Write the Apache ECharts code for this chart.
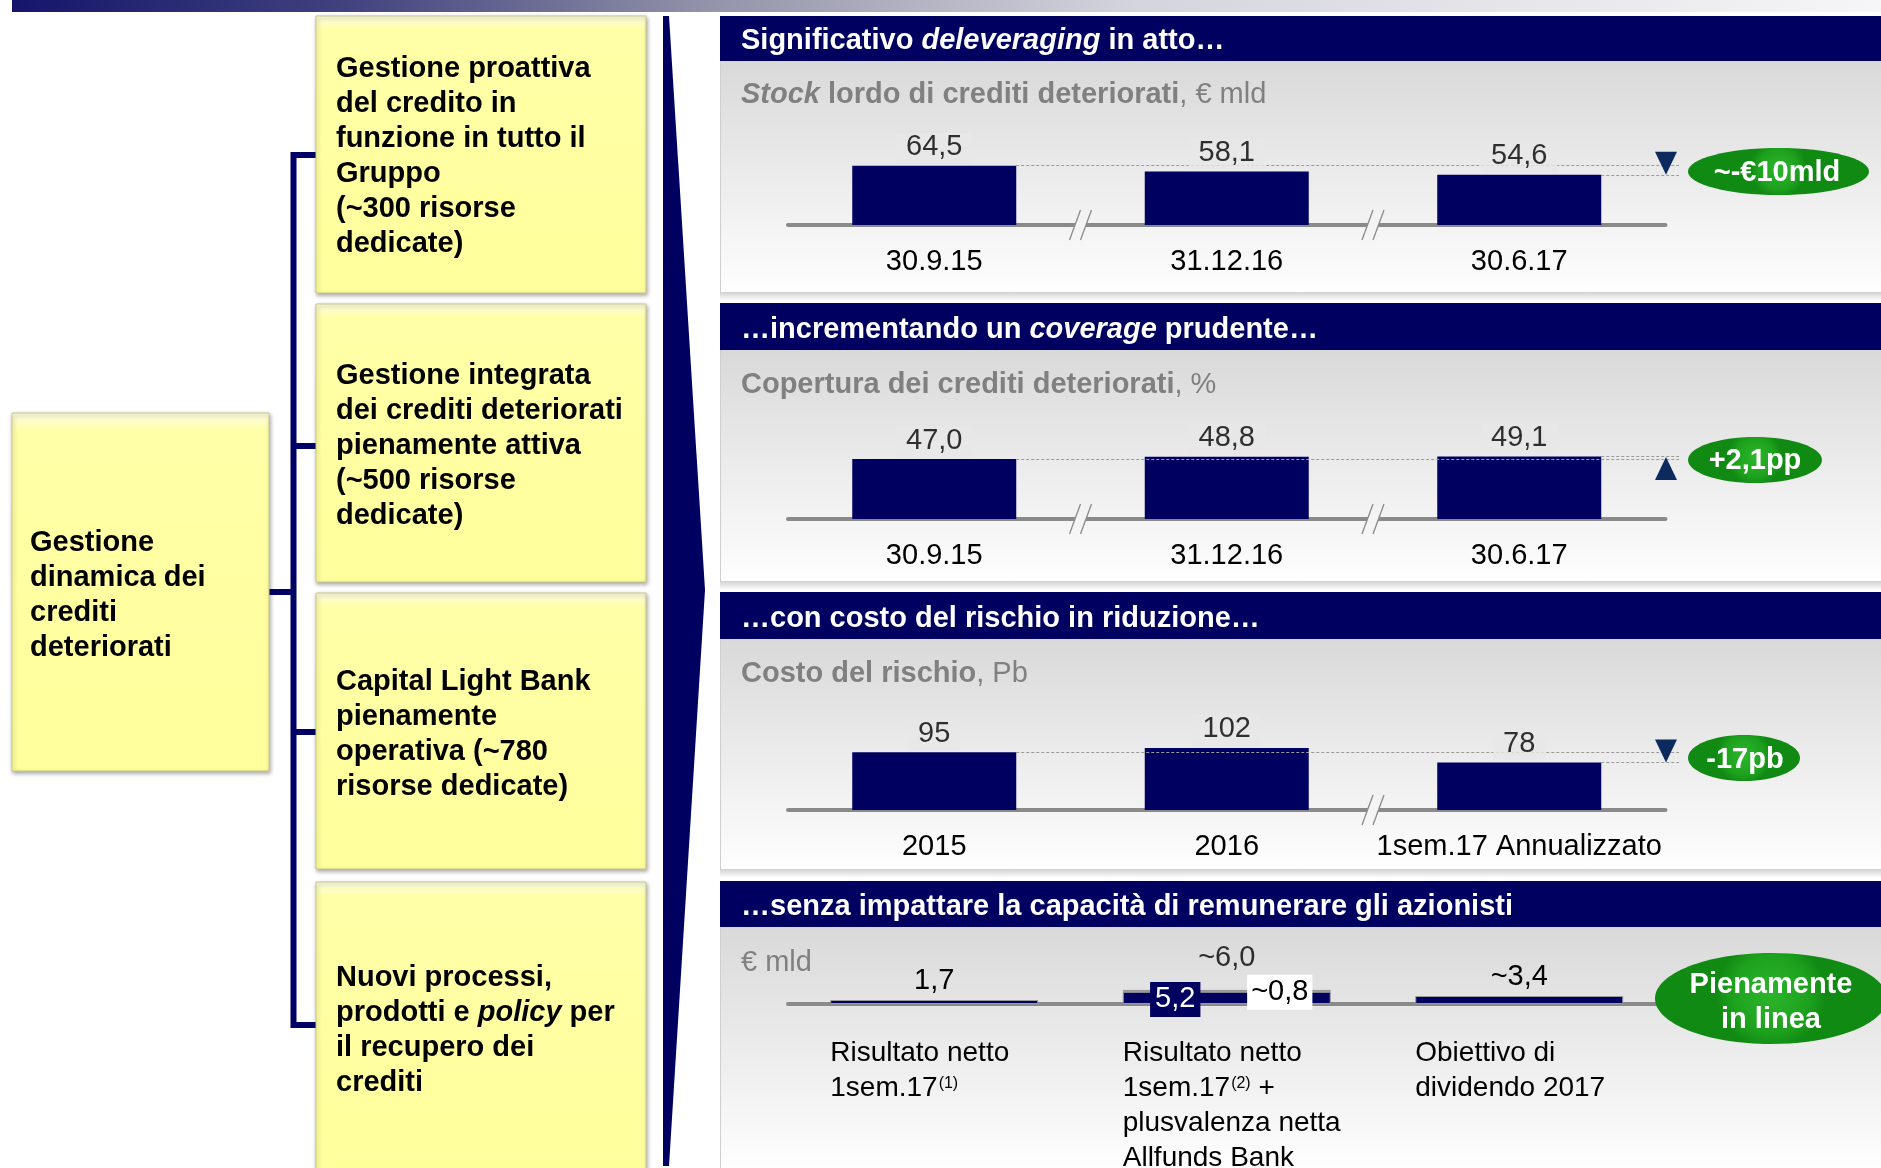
<!DOCTYPE html>
<html><head><meta charset="utf-8">
<script src="https://cdn.jsdelivr.net/npm/echarts@6/dist/echarts.min.js"></script>
<style>html,body{margin:0;padding:0;background:#fff}#c{width:1881px;height:1168px}</style>
</head><body><div id="c"></div>
<script>
// ---------------- DATA ----------------
const p1Categories = ['30.9.15', '31.12.16', '30.6.17'];
const p1Values = [64.5, 58.1, 54.6];
const p1Labels = ['64,5', '58,1', '54,6'];
const p1Delta = '~-€10mld';

const p2Categories = ['30.9.15', '31.12.16', '30.6.17'];
const p2Values = [47.0, 48.8, 49.1];
const p2Labels = ['47,0', '48,8', '49,1'];
const p2Delta = '+2,1pp';

const p3Categories = ['2015', '2016', '1sem.17 Annualizzato'];
const p3Values = [95, 102, 78];
const p3Labels = ['95', '102', '78'];
const p3Delta = '-17pb';

const p4Categories = ['Risultato netto\n1sem.17^(1)', 'Risultato netto\n1sem.17^(2) +\nplusvalenza netta\nAllfunds Bank', 'Obiettivo di\ndividendo 2017'];
const p4Base = [1.7, 5.2, 3.4];
const p4Extra = [null, 0.8, null];
const p4Totals = [null, 6.0, null];
const p4Labels = ['1,7', '5,2', '~3,4'];
const p4ExtraLabels = [null, '~0,8', null];
const p4TotalLabels = [null, '~6,0', null];
const p4Delta = 'Pienamente\nin linea';

const headerTexts = [
  '{b|Significativo }{bi|deleveraging}{b| in atto…}',
  '{b|…incrementando un }{bi|coverage}{b| prudente…}',
  '{b|…con costo del rischio in riduzione…}',
  '{b|…senza impattare la capacità di remunerare gli azionisti}'
];
const subtitleTexts = [
  '{bi|Stock}{b| lordo di crediti deteriorati}{n|, € mld}',
  '{b|Copertura dei crediti deteriorati}{n|, %}',
  '{b|Costo del rischio}{n|, Pb}',
  '{n|€ mld}'
];
const mainBoxText = '{b|Gestione}\n{b|dinamica dei}\n{b|crediti}\n{b|deteriorati}';
const sideBoxTexts = [
  '{b|Gestione proattiva}\n{b|del credito in}\n{b|funzione in tutto il}\n{b|Gruppo}\n{b|(~300 risorse}\n{b|dedicate)}',
  '{b|Gestione integrata}\n{b|dei crediti deteriorati}\n{b|pienamente attiva}\n{b|(~500 risorse}\n{b|dedicate)}',
  '{b|Capital Light Bank}\n{b|pienamente}\n{b|operativa (~780}\n{b|risorse dedicate)}',
  '{b|Nuovi processi,}\n{b|prodotti e }{bi|policy}{b| per}\n{b|il recupero dei}\n{b|crediti}'
];

// ---------------- LAYOUT / STYLE ----------------
const FONT = '"Liberation Sans", Arial, Helvetica, sans-serif';
const NAVY = '#000060';
const TRI = '#0c2a5e';
const DASH = '#9a9a9a';
const GRID_LEFT = 788, BAND = 292.5, NCAT = 3, GRID_W = BAND * NCAT;
const BAR_W = 164, BAR_W4 = 208;
const ARROW_X = 1666, DASH_END = 1679;
const PANEL_X = 720, PANEL_W = 1881 - 720;
const BG_TOP = 217, BG_BOT = 254;
const P = [
  {hTop:16,  hBot:61,  bBot:293,  baseline:225,  max:100, ppu:0.92,  headerY:41,  subY:95},
  {hTop:303, hBot:350, bBot:582,  baseline:519,  max:60,  ppu:1.275, headerY:330, subY:385},
  {hTop:592, hBot:639, bBot:870,  baseline:810,  max:150, ppu:0.608, headerY:619, subY:674},
  {hTop:881, hBot:927, bBot:1168, baseline:1004, max:10,  ppu:2.35,  headerY:907, subY:963}
];
function catCenter(i) { return GRID_LEFT + (i + 0.5) * BAND; }
function barRight(i) { return catCenter(i) + BAR_W / 2; }
function grayAt(g, y) {
  const t = Math.max(0, Math.min(1, (y - g.hBot) / (g.bBot - g.hBot)));
  const v = Math.round(BG_TOP + (BG_BOT - BG_TOP) * t);
  return 'rgb(' + v + ',' + v + ',' + v + ')';
}
function richBase(size, color) {
  return {
    b:  {fontFamily:FONT, fontSize:size, fontWeight:'bold', fill:color, lineHeight:35},
    bi: {fontFamily:FONT, fontSize:size, fontWeight:'bold', fontStyle:'italic', fill:color, lineHeight:35},
    n:  {fontFamily:FONT, fontSize:size, fontWeight:'normal', fill:color, lineHeight:35}
  };
}

// ---------------- GRIDS / AXES ----------------
const grids = P.map(g => ({left: GRID_LEFT, width: GRID_W, top: g.baseline - g.max * g.ppu, height: g.max * g.ppu,
  containLabel:false, outerBoundsMode:'none'}));
const catsAll = [p1Categories, p2Categories, p3Categories, p4Categories];
const xAxes = catsAll.map((cats, i) => {
  const ax = {
    type:'category', gridIndex:i, data:cats,
    axisLine:{show:true, lineStyle:{color:'#8a8a8a', width:4}},
    axisTick:{show:false}, splitLine:{show:false},
    axisLabel:{interval:0, margin:22, fontSize:29, color:'#000', fontFamily:FONT}
  };
  if (i === 3) {
    ax.axisLabel = {
      interval:0, margin:32, width:BAR_W4, align:'center', color:'#000', fontFamily:FONT, fontSize:28,
      formatter: v => v.split('\n').map(l => '{n|' + l.replace(/\^(\([^)]*\))/g, '}{s|$1}{n|') + '}').join('\n'),
      rich: {
        n: {align:'left', fontSize:28, lineHeight:35, color:'#000', fontFamily:FONT},
        s: {align:'left', fontSize:16, lineHeight:20, verticalAlign:'top', padding:[5,0,0,1], color:'#000', fontFamily:FONT}
      }
    };
  }
  return ax;
});
const yAxes = P.map((g, i) => ({type:'value', gridIndex:i, min:0, max:g.max, show:false}));

// ---------------- SERIES ----------------
function panelSeries(i, values, labels, down) {
  const g = P[i];
  const labelY = g.baseline - Math.max.apply(null, values) * g.ppu - 20;
  const v0 = values[0], v2 = values[values.length - 1];
  return [
    {
      type:'bar', xAxisIndex:i, yAxisIndex:i, data:values, barWidth:BAR_W, z:2, silent:true,
      itemStyle:{color:NAVY},
      markLine:{
        silent:true, symbol:['none','none'], z:5, label:{show:false}, emphasis:{disabled:true},
        lineStyle:{color:DASH, width:1, type:[3,2]},
        data:[
          [{coord:[0, v0], x:barRight(0)}, {coord:[2, v0], x:DASH_END}],
          [{coord:[2, v2], x:barRight(2)}, {coord:[2, v2], x:DASH_END}]
        ]
      },
      markPoint:{
        silent:true, label:{show:false}, itemStyle:{color:TRI},
        data:[{coord:[2, v2], x:ARROW_X, symbol:'triangle', symbolSize:[22,23], symbolRotate: down ? 180 : 0, symbolOffset:[0, down ? -11.5 : 12]}]
      }
    },
    {
      type:'scatter', xAxisIndex:i, yAxisIndex:i, data:values, symbolSize:1, z:10, silent:true,
      itemStyle:{color:'rgba(0,0,0,0)'},
      label:{show:true, position:'top', distance:1.5, formatter: p => labels[p.dataIndex],
        fontSize:29, color:'#000', fontFamily:FONT, backgroundColor:grayAt(g, labelY), padding:[0,10,2,10]}
    }
  ];
}
const series = [].concat(
  panelSeries(0, p1Values, p1Labels, true),
  panelSeries(1, p2Values, p2Labels, false),
  panelSeries(2, p3Values, p3Labels, true),
  [
    {
      type:'bar', xAxisIndex:3, yAxisIndex:3, stack:'p4', barWidth:BAR_W4, silent:true,
      itemStyle:{color:NAVY, borderColor:'#9a9a9a', borderWidth:1},
      label:{show:true, position:'top', distance:4.5, fontSize:29, color:'#000', fontFamily:FONT,
        formatter: p => p4Labels[p.dataIndex]},
      data: p4Base.map((v, i) => i === 1
        ? {value:v, label:{position:'inside', offset:[-51.5, 1.5], color:'#fff', backgroundColor:NAVY, padding:[3,5]}}
        : v)
    },
    {
      type:'bar', xAxisIndex:3, yAxisIndex:3, stack:'p4', barWidth:BAR_W4, silent:true,
      itemStyle:{color:NAVY, borderColor:'#9a9a9a', borderWidth:1},
      label:{show:true, position:'inside', offset:[53, 1.5], fontSize:29, color:'#000', fontFamily:FONT,
        backgroundColor:'#fff', padding:[3,4], formatter: p => p4ExtraLabels[p.dataIndex] || ''},
      data: p4Extra
    },
    {
      type:'scatter', xAxisIndex:3, yAxisIndex:3, data:p4Totals, symbolSize:1, z:10, silent:true,
      itemStyle:{color:'rgba(0,0,0,0)'},
      label:{show:true, position:'top', distance:16.5, fontSize:29, color:'#000', fontFamily:FONT,
        formatter: p => p4TotalLabels[p.dataIndex] || ''}
    }
  ]
);

// ---------------- GRAPHICS ----------------
const G = [];
G.push({type:'rect', z:-10, silent:true, shape:{x:12, y:0, width:1869, height:12},
  style:{fill:{type:'linear', x:0, y:0, x2:1, y2:0, colorStops:[
    {offset:0, color:'#15156b'}, {offset:0.18, color:'#42427f'}, {offset:0.37, color:'#9292a9'},
    {offset:0.6, color:'#d4d4dc'}, {offset:1, color:'#f6f6f8'}]}}});

function yellowBox(x, y, w, h) {
  return {type:'rect', z:-5, silent:true, shape:{x:x, y:y, width:w, height:h},
    style:{fill:{type:'linear', x:0, y:0, x2:0, y2:1, colorStops:[
      {offset:0, color:'#fcfce4'}, {offset:0.05, color:'#ffffa8'}, {offset:1, color:'#ffff9c'}]},
      stroke:'#c9c98a', lineWidth:1, shadowBlur:4, shadowColor:'rgba(0,0,0,0.35)', shadowOffsetX:1, shadowOffsetY:2}};
}
function boxText(txt, x, yc) {
  return {type:'text', z:-4, silent:true, style:{text:txt, x:x, y:yc, verticalAlign:'middle', align:'left',
    fontFamily:FONT, fontSize:29, fontWeight:'bold', fill:'#000', rich:richBase(29, '#000')}};
}
G.push(yellowBox(12, 413, 257, 358));
G.push(boxText(mainBoxText, 30, 595));
const sideBoxes = [[16, 277, 156.5], [304, 278, 445.5], [593, 276, 734.5], [882, 294, 1030.5]];
sideBoxes.forEach((b, i) => {
  G.push(yellowBox(316, b[0], 330, b[1]));
  G.push(boxText(sideBoxTexts[i], 336, b[2]));
});
// connectors
const CONN = '#000066';
G.push({type:'polyline', z:-6, silent:true, shape:{points:[[316,155],[293.5,155],[293.5,1025],[316,1025]]},
  style:{stroke:CONN, lineWidth:6, fill:null, lineJoin:'miter'}});
[446, 732].forEach(y => G.push({type:'line', z:-6, silent:true, shape:{x1:293.5, y1:y, x2:316, y2:y}, style:{stroke:CONN, lineWidth:6}}));
G.push({type:'line', z:-6, silent:true, shape:{x1:269, y1:592, x2:293.5, y2:592}, style:{stroke:CONN, lineWidth:6}});
// chevron
G.push({type:'polygon', z:-6, silent:true, shape:{points:[[663,16],[669,16],[705,590],[669,1166],[663,1166]]}, style:{fill:NAVY}});

// panels
P.forEach((g, i) => {
  G.push({type:'rect', z:-10, silent:true, shape:{x:PANEL_X, y:g.hBot, width:PANEL_W, height:g.bBot - g.hBot},
    style:{fill:{type:'linear', x:0, y:0, x2:0, y2:1, colorStops:[
      {offset:0, color:'rgb(' + BG_TOP + ',' + BG_TOP + ',' + BG_TOP + ')'},
      {offset:1, color:'rgb(' + BG_BOT + ',' + BG_BOT + ',' + BG_BOT + ')'}]}}});
  G.push({type:'line', z:-9, silent:true, shape:{x1:PANEL_X + 0.5, y1:g.hBot, x2:PANEL_X + 0.5, y2:g.bBot}, style:{stroke:'#cfcfcf', lineWidth:1}});
  if (g.bBot < 1168) {
    G.push({type:'line', z:-9, silent:true, shape:{x1:PANEL_X, y1:g.bBot - 0.5, x2:1881, y2:g.bBot - 0.5}, style:{stroke:'#d2d2d2', lineWidth:1}});
    G.push({type:'rect', z:-9, silent:true, shape:{x:PANEL_X, y:g.bBot, width:PANEL_W, height:8},
      style:{fill:{type:'linear', x:0, y:0, x2:0, y2:1, colorStops:[
        {offset:0, color:'rgba(0,0,0,0.16)'}, {offset:1, color:'rgba(0,0,0,0)'}]}}});
  }
  G.push({type:'rect', z:-9, silent:true, shape:{x:PANEL_X, y:g.hTop, width:PANEL_W, height:g.hBot - g.hTop}, style:{fill:NAVY}});
  G.push({type:'text', z:-8, silent:true, style:{text:headerTexts[i], x:741, y:g.headerY, verticalAlign:'middle', align:'left',
    fontFamily:FONT, fontSize:29, fill:'#fff', rich:richBase(29, '#fff')}});
  G.push({type:'text', z:-8, silent:true, style:{text:subtitleTexts[i], x:741, y:g.subY, verticalAlign:'middle', align:'left',
    fontFamily:FONT, fontSize:29, fill:'#808080', rich:richBase(29, '#808080')}});
});

// axis breaks
function breakMark(cx, b) {
  const s = 11 / 30;
  G.push({type:'polygon', z:50, silent:true, shape:{points:[
    [cx - 5.5 + 3 * s, b - 3], [cx + 5.5 + 3 * s, b - 3], [cx + 5.5 - 3 * s, b + 3], [cx - 5.5 - 3 * s, b + 3]]},
    style:{fill:'#f4f4f4'}});
  G.push({type:'line', z:51, silent:true, shape:{x1:cx - 11, y1:b + 15, x2:cx, y2:b - 15}, style:{stroke:'#8a8a8a', lineWidth:1.3}});
  G.push({type:'line', z:51, silent:true, shape:{x1:cx, y1:b + 15, x2:cx + 11, y2:b - 15}, style:{stroke:'#8a8a8a', lineWidth:1.3}});
}
const breaks = [[1, 2], [1, 2], [2], []];
breaks.forEach((bs, i) => bs.forEach(k => breakMark(GRID_LEFT + k * BAND, P[i].baseline)));

// green ellipses
function greenEllipse(cx, cy, rx, ry, txt, tx, ty) {
  G.push({type:'ellipse', z:60, silent:true, shape:{cx:cx, cy:cy, rx:rx, ry:ry},
    style:{fill:{type:'radial', x:0.5, y:0.45, r:0.6, colorStops:[
      {offset:0, color:'#2cb52c'}, {offset:0.7, color:'#1ea21e'}, {offset:1, color:'#118a14'}]}}});
  G.push({type:'text', z:61, silent:true, style:{text:txt, x:tx, y:ty, align:'center', verticalAlign:'middle',
    fontFamily:FONT, fontSize:29, fontWeight:'bold', fill:'#fff', lineHeight:35}});
}
greenEllipse(1778.5, 171.5, 90.5, 23.5, p1Delta, 1777, 173);
greenEllipse(1755, 460, 67, 23, p2Delta, 1755, 461);
greenEllipse(1744, 758, 56, 23, p3Delta, 1745, 760);
greenEllipse(1771, 998.5, 116, 45.5, p4Delta, 1771, 1002);

const chart = echarts.init(document.getElementById('c'), null, {renderer:'canvas', width:1881, height:1168});
chart.setOption({
  animation:false,
  backgroundColor:'#ffffff',
  grid:grids, xAxis:xAxes, yAxis:yAxes, series:series, graphic:G
});
</script>
</body></html>
